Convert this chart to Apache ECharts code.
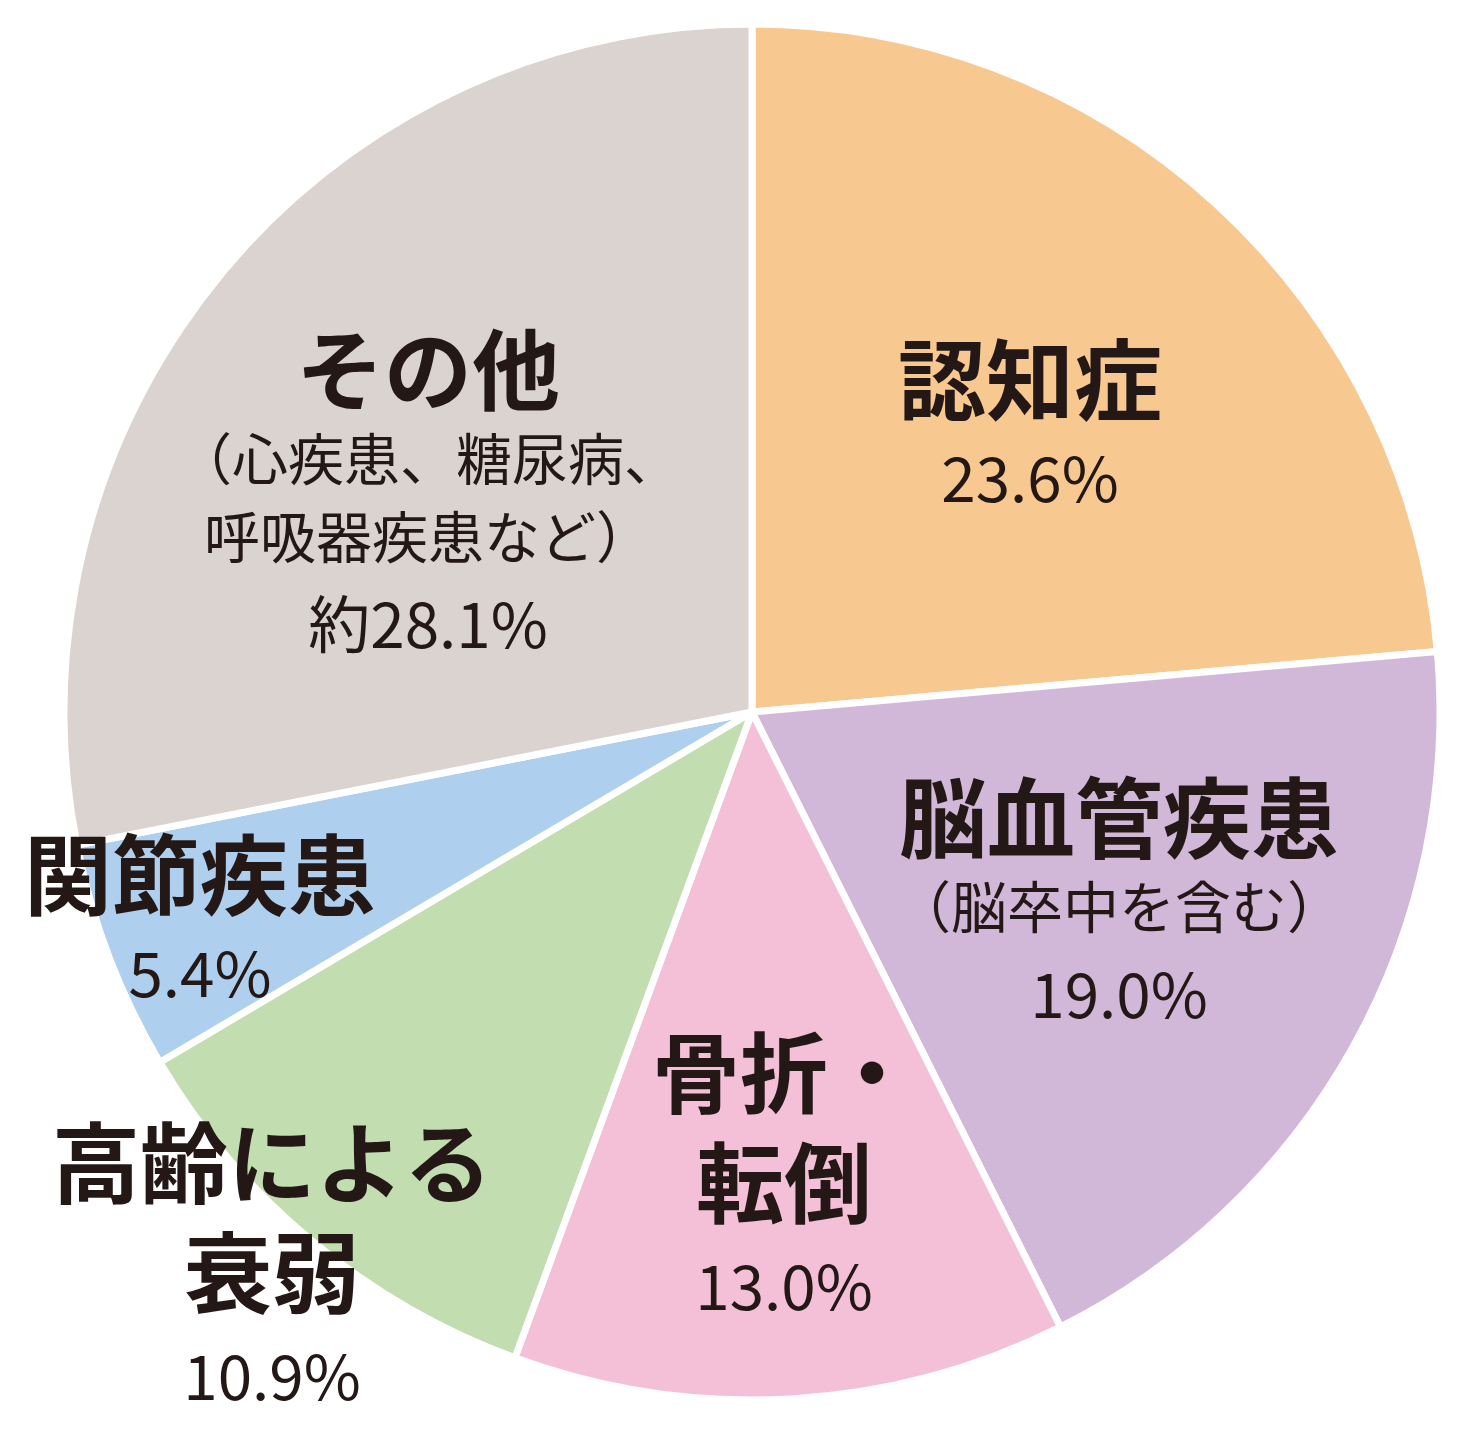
<!DOCTYPE html>
<html>
<head>
<meta charset="utf-8">
<title>要介護の原因</title>
<script src="https://cdn.jsdelivr.net/npm/echarts@6/dist/echarts.min.js"></script>
<style>
  html, body { margin: 0; padding: 0; background: #fff; }
  #chart { width: 1460px; height: 1440px; }
</style>
</head>
<body>
<div id="chart"></div>
<script>
// 項目（時計回り、12時から）
const names = ['認知症', '脳血管疾患', '骨折・転倒', '高齢による衰弱', '関節疾患', 'その他']
const values = [23.6, 19.0, 13.0, 10.9, 5.4, 28.1]
const colors = ['#F8C891', '#D2B8D8', '#F4C0D8', '#C2DDB0', '#AECFEE', '#DAD3D0']

// ラベル表示用テキスト
const titleLines = [['認知症'], ['脳血管疾患'], ['骨折・', '転倒'], ['高齢による', '衰弱'], ['関節疾患'], ['その他']]
const subLines = [[], ['（脳卒中を含む）'], [], [], [], ['（心疾患、糖尿病、', '呼吸器疾患など）']]
const prefixes = ['', '', '', '', '', '約']

// ラベルの位置（px）
const labelPos = [[1030, 428], [1119, 905], [784, 1176], [272, 1266], [200, 923], [428, 496]]

const chart = echarts.init(document.getElementById('chart'))

function labelText(i) {
  const multi = titleLines[i].length > 1
  const lines = titleLines[i].map(t => (multi ? '{tt|' : '{t|') + t + '}')
  subLines[i].forEach(s => lines.push('{s|' + s + '}'))
  lines.push('{p|' + prefixes[i] + values[i].toFixed(1) + '%}')
  return lines.join('\n')
}

const font = '"Noto Sans CJK JP", "Noto Sans", sans-serif'

chart.setOption({
  backgroundColor: '#fff',
  animation: false,
  series: [{
    type: 'pie',
    center: [752, 712],
    radius: 688,
    startAngle: 90,
    clockwise: true,
    avoidLabelOverlap: false,
    emphasis: { disabled: true },
    itemStyle: {
      borderColor: '#fff',
      borderWidth: 7
    },
    labelLine: { show: false },
    label: {
      show: true,
      position: 'inside',
      color: '#231815',
      fontFamily: font,
      formatter: p => labelText(p.dataIndex),
      rich: {
        t: { fontSize: 88, fontWeight: 'bold', lineHeight: 100, fontFamily: font, color: '#231815' },
        tt: { fontSize: 88, fontWeight: 'bold', lineHeight: 110, fontFamily: font, color: '#231815' },
        s: { fontSize: 56, lineHeight: 78, fontFamily: font, color: '#231815' },
        p: { fontSize: 62, lineHeight: 96, fontFamily: font, color: '#231815' }
      }
    },
    labelLayout: params => ({
      x: labelPos[params.dataIndex][0],
      y: labelPos[params.dataIndex][1],
      align: 'center',
      verticalAlign: 'middle'
    }),
    data: names.map((n, i) => ({
      name: n,
      value: values[i],
      itemStyle: { color: colors[i] }
    }))
  }]
})
</script>
</body>
</html>
